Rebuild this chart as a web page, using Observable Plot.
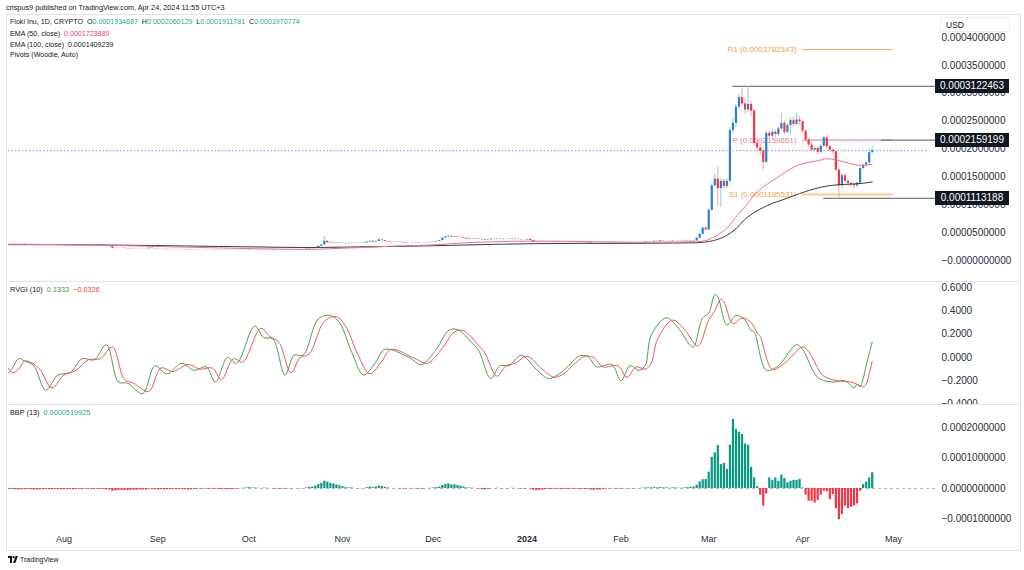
<!DOCTYPE html>
<html><head><meta charset="utf-8">
<script src="https://cdn.jsdelivr.net/npm/d3@7"></script>
<script src="https://cdn.jsdelivr.net/npm/@observablehq/plot@0.6"></script>
<style>
html,body{margin:0;padding:0;background:#fff;}
#root{position:relative;width:1024px;height:570px;overflow:hidden;font-family:"Liberation Sans",Arial,sans-serif;color:#131722;}
.t{position:absolute;white-space:nowrap;line-height:1;}
.panel{position:absolute;left:0;}
.sep{position:absolute;left:6px;width:1014px;height:1px;background:#e0e3eb;}
.tag{position:absolute;left:935px;width:74px;height:14px;background:#131722;color:#fff;font-size:10px;line-height:14px;text-align:center;}
</style></head><body><div id="root"></div>
<script>
// ---------- DATA (prices in units of 1e-6 USD) ----------
const UNIT = 1e-6;
const START = "2023-07-13"; // first daily candle
const open = [
 28.0,29.5,29.8,29.6,29.3,28.9,29.2,28.8,28.9,28.6,28.2,27.9,28.1,28.0,28.3,27.8,27.6,27.9,27.5,
 27.2,26.8,26.5,26.6,26.2,26.4,26.1,25.8,26.5,26.2,26.0,26.1,25.9,25.7,25.9,25.3,24.6,21.8,21.5,21.8,22.0,21.5,21.0,21.6,21.2,21.0,21.1,20.9,20.8,22.2,21.5,
 20.9,20.5,20.6,20.4,20.1,19.9,20.0,19.7,19.9,19.8,19.2,18.6,18.9,19.2,19.5,19.3,19.4,19.1,18.9,19.2,19.0,18.4,18.2,18.3,18.0,17.9,18.1,18.3,18.6,18.8,
 19.1,20.2,19.6,19.8,19.5,19.3,19.8,19.9,19.6,19.0,18.9,18.8,18.6,18.8,19.1,19.2,19.5,19.3,19.1,19.4,20.4,21.0,21.4,23.0,25.5,27.8,34.5,31.8,31.2,32.0,31.5,
 30.8,30.6,30.0,30.9,31.3,30.8,30.4,30.7,31.5,33.2,34.5,32.8,34.2,36.8,35.6,34.0,33.0,32.3,32.7,33.1,32.5,31.4,32.2,32.4,31.9,32.3,31.7,31.5,31.9,32.3,
 32.9,33.4,34.3,35.8,40.2,42.3,43.4,41.8,42.9,42.0,41.3,39.8,38.3,39.3,38.6,37.8,38.3,37.3,36.3,37.0,38.3,37.8,38.6,38.0,37.4,37.6,38.3,38.8,37.8,37.3,36.8,
 37.0,37.8,35.8,32.8,33.6,32.8,33.0,32.4,33.3,32.8,33.8,33.4,32.3,32.6,32.4,32.2,32.8,32.3,31.8,31.6,31.8,31.4,30.0,29.6,30.0,29.8,30.6,30.8,31.0,31.3,31.2,
 30.4,30.6,31.0,30.8,30.6,30.4,30.8,31.4,32.0,33.3,33.8,33.4,34.6,33.8,35.3,34.8,35.0,34.8,35.6,35.8,35.4,36.0,35.2,34.8,35.6,
 35.0,40,47,58,
 55,90,134,146,129,142,133,142,233,246,275,292,281,270,280,268,210,202,196,176,228,223,230,226,236,246,230,242,251,244,252,
 249,232,216,207,198,201,194,205,220,204,198,195,162,134,152,142,138,136,134,139,165,171,175,193.5];
const high = [
 31.2,30.6,30.2,29.9,29.6,29.6,29.4,29.2,29.1,28.8,28.4,28.5,28.4,28.7,28.5,28.0,28.2,28.1,27.7,
 27.4,27.0,26.9,26.8,26.6,26.6,26.3,26.8,26.7,26.4,26.3,26.3,26.1,26.0,26.0,25.5,24.8,22.3,22.1,22.3,22.1,21.7,21.8,21.8,21.4,21.3,21.3,21.1,22.8,22.4,21.7,
 21.1,20.8,20.8,20.6,20.3,20.2,20.2,20.1,20.1,19.9,19.3,19.1,19.4,19.7,19.7,19.6,19.6,19.3,19.4,19.4,19.1,18.6,18.5,18.4,18.2,18.3,18.5,18.8,19.0,19.4,
 20.8,20.4,20.0,20.0,19.7,20.0,20.2,20.1,19.7,19.3,19.1,18.9,19.0,19.3,19.4,19.8,19.7,19.4,19.6,20.8,21.4,21.8,23.6,26.2,29.0,43.0,35.5,32.6,32.8,32.4,31.8,
 31.2,31.0,31.2,31.8,31.5,31.0,31.0,31.8,33.8,35.2,34.8,34.6,39.0,37.2,35.8,34.3,33.3,33.0,33.5,33.4,32.7,32.5,32.8,32.6,32.5,32.4,31.9,32.1,32.6,33.2,
 33.8,34.8,36.3,41.0,43.2,45.5,43.8,43.6,43.3,42.4,41.6,40.0,39.8,39.6,38.9,38.7,38.5,37.5,37.4,38.8,38.6,39.0,38.8,38.2,37.9,38.6,39.3,38.9,38.0,37.6,37.3,
 38.3,38.6,36.2,34.0,33.9,33.4,33.3,33.6,33.6,34.3,34.5,33.6,32.9,32.9,32.7,33.1,33.0,32.5,32.0,32.1,32.0,31.5,30.3,30.3,30.3,30.9,31.1,31.3,31.6,31.6,31.4,
 30.9,31.3,31.2,31.0,30.8,31.1,31.7,32.4,33.7,34.3,34.0,35.0,34.8,35.7,35.6,35.4,35.3,35.9,36.3,36.0,36.4,36.2,35.4,35.9,35.9,
 41,49,61,60,
 93,138,156,168,147,146,148,238,255,280,298,309,290,312.25,285,272,218,208,200,233,232,236,234,240,263,250,246,255,256,263,258,
 252,235,220,211,205,204,208,223,222,206,200,197,165,156,155,146,141,139,141,168,173,177,200,206.0];
const low = [
 27.3,29.0,29.1,29.0,28.6,28.7,28.5,28.5,28.3,27.9,27.6,27.7,27.8,27.8,27.5,27.3,27.4,27.2,26.9,
 26.5,26.3,26.3,26.0,26.0,25.9,25.6,25.6,26.0,25.8,25.8,25.7,25.5,25.5,25.1,24.3,20.6,21.0,21.2,21.5,21.3,20.8,20.9,21.0,20.8,20.8,20.7,20.6,20.7,21.3,20.6,
 20.2,20.3,20.2,19.9,19.7,19.7,19.5,19.6,19.6,19.0,18.3,18.5,18.7,19.0,19.1,19.1,18.9,18.7,18.7,18.8,18.2,18.0,18.0,17.8,17.7,17.8,18.0,18.2,18.4,18.6,
 19.0,19.4,19.4,19.3,19.1,19.1,19.6,19.4,18.8,18.7,18.6,18.4,18.5,18.7,18.9,19.0,19.1,18.9,18.9,19.2,20.1,20.7,21.2,22.8,25.1,27.5,31.0,30.6,31.0,31.1,30.4,
 30.1,29.8,29.8,30.7,30.6,30.2,30.2,30.5,31.3,33.0,32.5,32.6,34.0,35.2,33.8,32.8,32.0,32.1,32.5,32.2,31.0,31.3,32.0,31.6,31.8,31.5,31.3,31.4,31.8,32.1,
 32.6,33.1,34.0,35.6,39.6,41.8,41.2,41.5,41.6,40.8,39.2,37.8,38.1,38.3,37.5,37.5,37.0,36.0,36.1,36.8,37.5,37.6,37.8,37.1,37.2,37.4,38.1,37.6,37.0,36.6,36.5,
 36.7,35.3,31.0,32.5,32.4,32.6,32.1,32.1,32.5,32.6,33.1,32.0,32.1,32.1,31.9,32.0,32.0,31.6,31.3,31.4,31.1,29.7,29.0,29.3,29.5,29.6,30.4,30.6,30.8,31.0,30.1,
 30.1,30.4,30.6,30.4,30.2,30.2,30.6,31.2,31.8,33.1,33.2,33.2,33.6,33.6,34.6,34.6,34.6,34.6,35.3,35.2,35.2,35.0,34.5,34.6,34.8,
 34.6,39,46,53.7,
 54,88,130,96,95,128,128,138,228,238,270,276,262,266,258,205,196,190,162,172,218,218,220,222,233,226,228,225,240,242,243,
 228,212,203,194,194,190,192,203,200,193,191,158,111.3,128,139,134,132,129,130,136,163,167,172,191.2];
const close = [
 29.5,29.8,29.6,29.3,28.9,29.2,28.8,28.9,28.6,28.2,27.9,28.1,28.0,28.3,27.8,27.6,27.9,27.5,27.2,
 26.8,26.5,26.6,26.2,26.4,26.1,25.8,26.5,26.2,26.0,26.1,25.9,25.7,25.9,25.3,24.6,21.8,21.5,21.8,22.0,21.5,21.0,21.6,21.2,21.0,21.1,20.9,20.8,22.2,21.5,20.9,
 20.5,20.6,20.4,20.1,19.9,20.0,19.7,19.9,19.8,19.2,18.6,18.9,19.2,19.5,19.3,19.4,19.1,18.9,19.2,19.0,18.4,18.2,18.3,18.0,17.9,18.1,18.3,18.6,18.8,19.1,
 20.2,19.6,19.8,19.5,19.3,19.8,19.9,19.6,19.0,18.9,18.8,18.6,18.8,19.1,19.2,19.5,19.3,19.1,19.4,20.4,21.0,21.4,23.0,25.5,27.8,34.5,31.8,31.2,32.0,31.5,30.8,
 30.6,30.0,30.9,31.3,30.8,30.4,30.7,31.5,33.2,34.5,32.8,34.2,36.8,35.6,34.0,33.0,32.3,32.7,33.1,32.5,31.4,32.2,32.4,31.9,32.3,31.7,31.5,31.9,32.3,32.9,
 33.4,34.3,35.8,40.2,42.3,43.4,41.8,42.9,42.0,41.3,39.8,38.3,39.3,38.6,37.8,38.3,37.3,36.3,37.0,38.3,37.8,38.6,38.0,37.4,37.6,38.3,38.8,37.8,37.3,36.8,37.0,
 37.8,35.8,32.8,33.6,32.8,33.0,32.4,33.3,32.8,33.8,33.4,32.3,32.6,32.4,32.2,32.8,32.3,31.8,31.6,31.8,31.4,30.0,29.6,30.0,29.8,30.6,30.8,31.0,31.3,31.2,30.4,
 30.6,31.0,30.8,30.6,30.4,30.8,31.4,32.0,33.3,33.8,33.4,34.6,33.8,35.3,34.8,35.0,34.8,35.6,35.8,35.4,36.0,35.2,34.8,35.6,35.0,
 40,47,58,55,
 90,134,146,129,142,133,142,233,246,275,292,281,270,280,268,210,202,196,176,228,223,230,226,236,246,230,242,251,244,252,249,
 232,216,207,198,201,194,205,220,204,198,195,162,134,152,142,138,136,134,139,165,171,175,193.5,197.1];
const bbp = [
 -2,-3,-4,-4,-5,-4,-4,-3,-4,-5,-5,-4,-4,-3,-4,-4,-3,-4,-4,
 -4,-4,-3,-4,-3,-3,-4,-2,-2,-3,-3,-3,-3,-3,-4,-5,-9,-8,-7,-6,-6,-7,-6,-6,-6,-5,-5,-5,-2,-3,-4,
 -5,-4,-4,-4,-4,-3,-4,-3,-3,-4,-5,-4,-3,-2,-2,-2,-2,-3,-2,-2,-3,-4,-3,-4,-4,-3,-2,-1,1,2,
 3,2,2,1,0,1,1,0,-1,-2,-2,-2,-2,-1,-1,0,0,-1,0,2,4,5,8,13,17,24,21,17,15,12,9,
 6,3,2,2,0,-1,-1,0,3,5,3,5,8,7,4,2,0,0,0,-1,-2,-1,-1,-1,-1,-2,-2,-1,0,1,
 2,3,5,10,13,15,12,12,10,8,5,2,2,1,0,-2,-4,-5,-3,-1,0,1,0,-1,-1,0,1,0,-1,-2,-2,
 0,-2,-6,-7,-6,-5,-4,-3,-3,-2,-2,-3,-3,-3,-3,-2,-2,-3,-3,-3,-3,-5,-6,-5,-5,-3,-2,-1,-1,-1,-2,
 -2,-1,-1,-1,-1,-1,0,1,2,2,2,3,2,3,2,2,1,2,2,1,1,2,3,4,5,
 11,22,29,30,
 54,103,118,142,79,83,63,143,228,195,186,178,147,143,70,35,6,-22,-58,-18,35,26,35,24,44,33,19,24,27,27,30,
 2,-22,-42,-42,-48,-40,-22,-9,-11,-37,-20,-67,-103,-86,-58,-66,-62,-58,-51,-9,13,21,35,52];

const ema50Dates = ["2023-07-13","2023-07-20","2023-07-27","2023-08-03","2023-08-10","2023-08-17","2023-08-24","2023-08-31","2023-09-07","2023-09-14","2023-09-21","2023-09-28","2023-10-05","2023-10-12","2023-10-19","2023-10-26","2023-11-02","2023-11-09","2023-11-16","2023-11-23","2023-11-30","2023-12-07","2023-12-14","2023-12-21","2023-12-28","2024-01-04","2024-01-11","2024-01-18","2024-01-25","2024-02-01","2024-02-08","2024-02-15","2024-02-22","2024-02-26","2024-02-29","2024-03-02","2024-03-04","2024-03-07","2024-03-10","2024-03-13","2024-03-16","2024-03-19","2024-03-22","2024-03-25","2024-03-28","2024-03-31","2024-04-03","2024-04-06","2024-04-09","2024-04-12","2024-04-15","2024-04-18","2024-04-20","2024-04-22","2024-04-24"];
const ema50Values = [28.9,28.9,28.7,28.3,27.8,27.2,26.2,25.3,24.4,23.5,22.6,21.6,20.9,20.3,19.9,20.6,22.2,23.6,25.4,26.6,27.7,30.2,32.3,33.6,34.6,34.8,34.6,34.2,33.5,33.0,32.7,33.0,33.4,33.8,35.6,40,46,58,78,97,117,132,143,154,164,172,176,179,182.5,180.5,176.5,172.3,170.6,171.3,172.4];
const ema100Dates = ["2023-07-13","2023-07-27","2023-08-10","2023-08-24","2023-09-07","2023-09-21","2023-10-05","2023-10-19","2023-10-26","2023-11-09","2023-11-23","2023-12-07","2023-12-21","2024-01-04","2024-01-18","2024-02-01","2024-02-15","2024-02-26","2024-03-01","2024-03-04","2024-03-07","2024-03-10","2024-03-13","2024-03-16","2024-03-19","2024-03-22","2024-03-25","2024-03-28","2024-03-31","2024-04-03","2024-04-06","2024-04-09","2024-04-12","2024-04-15","2024-04-18","2024-04-21","2024-04-24"];
const ema100Values = [28.4,28.4,28.1,27.3,26.3,25.2,24.2,23.3,23.5,24.6,25.6,27.2,29.0,30.2,30.7,30.8,31.2,31.8,34,38,45,57,74,86,95,102.5,108,114,120,125.5,130,133.5,135.5,136.5,137.3,138.6,140.9];

const rvgiDates = ["2023-07-13","2023-07-15","2023-07-17","2023-07-19","2023-07-22","2023-07-26","2023-07-30","2023-08-03","2023-08-07","2023-08-11","2023-08-15","2023-08-19","2023-08-22","2023-08-27","2023-08-31","2023-09-04","2023-09-09","2023-09-13","2023-09-17","2023-09-20","2023-09-24","2023-09-27","2023-10-03","2023-10-06","2023-10-09","2023-10-13","2023-10-16","2023-10-19","2023-10-24","2023-10-28","2023-10-31","2023-11-04","2023-11-08","2023-11-12","2023-11-15","2023-11-23","2023-11-27","2023-12-02","2023-12-06","2023-12-09","2023-12-14","2023-12-16","2023-12-20","2023-12-23","2023-12-26","2023-12-30","2024-01-04","2024-01-08","2024-01-11","2024-01-14","2024-01-18","2024-01-21","2024-01-24","2024-01-29","2024-02-01","2024-02-04","2024-02-07","2024-02-09","2024-02-11","2024-02-16","2024-02-20","2024-02-24","2024-02-25","2024-02-28","2024-03-01","2024-03-03","2024-03-04","2024-03-07","2024-03-10","2024-03-13","2024-03-15","2024-03-16","2024-03-20","2024-03-24","2024-03-30","2024-04-01","2024-04-06","2024-04-11","2024-04-15","2024-04-18","2024-04-19","2024-04-20","2024-04-21","2024-04-22","2024-04-23","2024-04-24"];
const rvgiValues = [-0.15,-0.09,-0.01,-0.03,-0.07,-0.28,-0.15,-0.13,-0.01,-0.02,0.11,-0.21,-0.22,-0.31,-0.07,-0.14,-0.05,-0.11,-0.08,-0.21,0.00,-0.05,0.27,0.17,0.16,-0.15,0.02,0.02,0.33,0.36,0.30,0.05,-0.15,-0.04,0.07,0.00,-0.06,0.07,0.23,0.24,0.12,0.06,-0.18,-0.07,-0.07,0.02,-0.10,-0.18,-0.15,-0.09,0.01,0.01,-0.08,-0.06,-0.20,-0.07,-0.11,-0.07,0.19,0.34,0.25,0.10,0.09,0.34,0.38,0.54,0.52,0.28,0.36,0.32,0.23,0.22,-0.11,-0.07,0.11,0.07,-0.17,-0.21,-0.20,-0.26,-0.23,-0.25,-0.18,-0.07,0.03,0.1333];
const signalDates = ["2023-07-13","2023-07-15","2023-07-17","2023-07-19","2023-07-21","2023-07-24","2023-07-28","2023-08-01","2023-08-05","2023-08-09","2023-08-13","2023-08-17","2023-08-21","2023-08-24","2023-08-29","2023-09-02","2023-09-06","2023-09-11","2023-09-15","2023-09-19","2023-09-22","2023-09-26","2023-09-29","2023-10-05","2023-10-08","2023-10-11","2023-10-15","2023-10-18","2023-10-21","2023-10-26","2023-10-30","2023-11-02","2023-11-06","2023-11-10","2023-11-14","2023-11-17","2023-11-25","2023-11-29","2023-12-04","2023-12-08","2023-12-11","2023-12-16","2023-12-18","2023-12-22","2023-12-25","2023-12-28","2024-01-01","2024-01-06","2024-01-10","2024-01-13","2024-01-16","2024-01-20","2024-01-23","2024-01-26","2024-01-31","2024-02-03","2024-02-06","2024-02-09","2024-02-11","2024-02-13","2024-02-18","2024-02-22","2024-02-26","2024-02-27","2024-03-01","2024-03-03","2024-03-05","2024-03-06","2024-03-09","2024-03-12","2024-03-15","2024-03-17","2024-03-18","2024-03-22","2024-03-26","2024-04-01","2024-04-03","2024-04-08","2024-04-13","2024-04-17","2024-04-20","2024-04-21","2024-04-22","2024-04-23","2024-04-24"];
const signalValues = [-0.07,-0.13,-0.10,-0.03,-0.04,-0.10,-0.26,-0.15,-0.11,-0.02,-0.01,0.09,-0.19,-0.22,-0.29,-0.09,-0.12,-0.06,-0.10,-0.09,-0.19,-0.01,-0.04,0.25,0.18,0.13,-0.13,0.00,0.03,0.31,0.35,0.27,0.03,-0.14,-0.03,0.07,-0.01,-0.05,0.08,0.22,0.23,0.10,0.04,-0.16,-0.07,-0.05,0.01,-0.10,-0.17,-0.14,-0.07,0.01,0.00,-0.08,-0.07,-0.17,-0.08,-0.10,-0.05,0.15,0.32,0.24,0.10,0.11,0.32,0.40,0.50,0.48,0.29,0.34,0.30,0.21,0.18,-0.10,-0.05,0.09,0.05,-0.16,-0.20,-0.21,-0.24,-0.25,-0.23,-0.14,-0.0326];

const lastPrice = 0.0001970774;
const levelValues = [0.0003122463, 0.0002159199, 0.0001113188];
const levelFrom = ["2024-03-09", "2024-04-27", "2024-04-08"];
const pivotNames = ["R1", "P", "S1"];
const pivotValues = [0.0003782343, 0.0002159661, 0.0001185531];
const pivotFrom = "2024-04-01", pivotTo = "2024-05-01", rayTo = "2024-05-15";

const priceTicks = [0, 0.00005, 0.0001, 0.00015, 0.0002, 0.00025, 0.0003, 0.00035, 0.0004];
const rvgiTicks = [-0.4, -0.2, 0, 0.2, 0.4, 0.6];
const bbpTicks = [-0.0001, 0, 0.0001, 0.0002];
const monthTicks = ["2023-08-01","2023-09-01","2023-10-01","2023-11-01","2023-12-01","2024-01-01","2024-02-01","2024-03-01","2024-04-01","2024-05-01"];
const monthLabels = ["Aug","Sep","Oct","Nov","Dec","2024","Feb","Mar","Apr","May"];

// ---------- BUILD ----------
const D = s => new Date(s + "T00:00:00Z");
const t0 = D(START).getTime();
const candles = close.map((c, i) => ({date: new Date(t0 + i * 864e5), o: open[i]*UNIT, h: high[i]*UNIT, l: low[i]*UNIT, c: c*UNIT, b: bbp[i]*UNIT}));
const upC = candles.filter(d => d.c >= d.o), dnC = candles.filter(d => d.c < d.o);
const ema50 = ema50Dates.map((d, i) => ({date: D(d), v: ema50Values[i]*UNIT}));
const ema100 = ema100Dates.map((d, i) => ({date: D(d), v: ema100Values[i]*UNIT}));
const rvgi = rvgiDates.map((d, i) => ({date: D(d), v: rvgiValues[i]}));
const signal = signalDates.map((d, i) => ({date: D(d), v: signalValues[i]}));
const levels = levelValues.map((v, i) => ({v, from: D(levelFrom[i]), to: D(rayTo)}));
const pivots = pivotValues.map((v, i) => ({v, name: pivotNames[i], from: D(pivotFrom), to: D(pivotTo), label: `${pivotNames[i]} (${v.toFixed(10)})`}));

const X = {type: "utc", domain: [new Date("2023-07-13T16:00:00Z"), new Date("2024-05-12T14:24:00Z")], range: [8, 928], label: null};
const FONT = '"Liberation Sans", Arial, sans-serif';
const neg = s => s.replace("-", "\u2212");
const common = {width: 1024, marginLeft: 8, marginRight: 96, marginTop: 0,
  style: {background: "transparent", fontFamily: FONT, fontSize: "10px", color: "#2a2e39", overflow: "hidden"}};

const root = document.getElementById("root");
function place(el, top) { el.classList.add("panel"); el.style.top = top + "px"; root.appendChild(el); return el; }
function div(cls, css, html) { const e = document.createElement("div"); e.className = cls; e.style.cssText = css; e.innerHTML = html; root.appendChild(e); return e; }

// Price panel
const pricePlot = Plot.plot({...common, height: 266, marginBottom: 0,
  x: {...X, axis: null},
  y: {domain: [0, 0.0004], range: [245, 22], label: null},
  marks: [
    Plot.axisY({anchor: "right", label: null, ticks: priceTicks, tickSize: 0, tickPadding: 13, fontSize: 10,
      tickFormat: d => d === 0 ? "\u22120.0000000000" : d.toFixed(10)}),
    Plot.ruleY([lastPrice], {stroke: "#7d96e3", strokeDasharray: "1.5,2", strokeWidth: 1}),
    Plot.text(pivots, {x: "from", y: "v", text: "label", textAnchor: "end", dx: -6, fontSize: 8,
      fill: d => d.name === "P" ? "#ef7a93" : "#f5a04a"}),
    Plot.ruleY(pivots.filter(d => d.name === "R1"), {y: "v", x1: "from", x2: "to", stroke: "#f5a65b", strokeWidth: 1}),
    Plot.ruleY(pivots.filter(d => d.name === "S1"), {y: "v", x1: "from", x2: "to", stroke: "#fbc98c", strokeWidth: 2}),
    Plot.ruleY(pivots.filter(d => d.name === "P"), {y: "v", x1: "from", x2: "to", stroke: "#ef8da0", strokeWidth: 1.2}),
    Plot.ruleY(levels, {y: "v", x1: "from", x2: "to", stroke: "#787b86", strokeWidth: 1.2}),
    Plot.ruleX(upC, {x: "date", y1: "l", y2: "h", stroke: "#8fd4c1", strokeWidth: 1, clip: true}),
    Plot.ruleX(dnC, {x: "date", y1: "l", y2: "h", stroke: "#f5a3ad", strokeWidth: 1, clip: true}),
    Plot.ruleX(upC, {x: "date", y1: "o", y2: "c", stroke: "#2a7ed6", strokeWidth: 2.2, clip: true}),
    Plot.ruleX(dnC, {x: "date", y1: "o", y2: "c", stroke: "#f23645", strokeWidth: 2.2, clip: true}),
    Plot.line(ema100, {x: "date", y: "v", stroke: "#3a3a3a", strokeWidth: 1, curve: "monotone-x", clip: true}),
    Plot.line(ema50, {x: "date", y: "v", stroke: "#f0708f", strokeWidth: 1, curve: "monotone-x", clip: true})
  ]});
place(pricePlot, 15);

// RVGI panel
const rvgiPlot = Plot.plot({...common, height: 122, marginBottom: 0,
  x: {...X, axis: null},
  y: {domain: [-0.4, 0.6], range: [121.7, 5], label: null},
  marks: [
    Plot.axisY({anchor: "right", label: null, ticks: rvgiTicks, tickSize: 0, tickPadding: 13, fontSize: 10,
      tickFormat: d => neg(d.toFixed(4))}),
    Plot.line(rvgi, {x: "date", y: "v", stroke: "#4c9f50", strokeWidth: 1, curve: "catmull-rom", clip: true}),
    Plot.line(signal, {x: "date", y: "v", stroke: "#f5525c", strokeWidth: 1, curve: "catmull-rom", clip: true})
  ]});
place(rvgiPlot, 282);

// BBP panel + time axis
const bbpPlot = Plot.plot({...common, height: 146, marginBottom: 20,
  style: {...common.style, background: "#fff"},
  x: {...X},
  y: {domain: [-0.0001, 0.0002], range: [114.3, 23.4], label: null},
  marks: [
    Plot.axisY({anchor: "right", label: null, ticks: bbpTicks, tickSize: 0, tickPadding: 13, fontSize: 10,
      tickFormat: d => neg(d.toFixed(10))}),
    Plot.axisX({anchor: "bottom", label: null, ticks: monthTicks.map(D), tickSize: 0, tickPadding: 5, fontSize: 9,
      tickFormat: d => monthLabels[monthTicks.indexOf(d.toISOString().slice(0, 10))]}),
    Plot.ruleY([0], {x1: X.domain[0], x2: D(rayTo), stroke: "#b2b5be", strokeDasharray: "3,3", strokeWidth: 1}),
    Plot.ruleX(candles.filter(d => d.b >= 0), {x: "date", y1: 0, y2: "b", stroke: "#089981", strokeWidth: 2.2, clip: true}),
    Plot.ruleX(candles.filter(d => d.b < 0), {x: "date", y1: 0, y2: "b", stroke: "#f23645", strokeWidth: 2.2, clip: true})
  ]});
place(bbpPlot, 404);
d3.select(bbpPlot).selectAll("text").filter(function() { return this.textContent === "2024"; }).attr("font-weight", "bold");

// Frame, separators
div("", "position:absolute;left:6px;top:14px;width:1013px;height:535px;border:1px solid #e0e3eb;pointer-events:none;", "");
div("sep", "top:281px;", "");
div("sep", "top:404px;", "");

// Price tags on the axis (they cover the round tick labels beneath, as in the reference)
const ys = pricePlot.scale("y");
levelValues.forEach(v => div("tag", `top:${15 + ys.apply(v) - 7}px;`, v.toFixed(10)));

// USD box
div("t", "left:940px;top:17px;width:70px;height:15px;border:1px solid #eceef2;border-radius:2px;background:#fff;font-size:8.5px;line-height:15px;padding-left:5px;box-sizing:border-box;", "USD");

// Texts
const G = "#22ab94";
div("t", "left:6px;top:4px;font-size:7.3px;color:#131722;", "crispus9 published on TradingView.com, Apr 24, 2024 11:55 UTC+3");
div("t", "left:10px;top:19px;font-size:7.1px;",
  `Floki Inu, 1D, CRYPTO&nbsp; O<span style="color:${G}">0.0001934687</span>&nbsp; H<span style="color:${G}">0.0002060129</span>&nbsp; L<span style="color:${G}">0.0001911781</span>&nbsp; C<span style="color:${G}">${lastPrice.toFixed(10)}</span>`);
div("t", "left:10px;top:31px;font-size:7.1px;", `EMA (50, close)&nbsp; <span style="color:#f23a6f">0.0001723889</span>`);
div("t", "left:10px;top:42px;font-size:7.1px;", `EMA (100, close)&nbsp; 0.0001409239`);
div("t", "left:10px;top:52px;font-size:7.1px;", `Pivots (Woodie, Auto)`);
div("t", "left:10px;top:286px;font-size:7.3px;", `RVGI (10)&nbsp; <span style="color:#43a047">${rvgiValues[rvgiValues.length-1].toFixed(4)}</span>&nbsp; <span style="color:#f44336">${neg(signalValues[signalValues.length-1].toFixed(4))}</span>`);
div("t", "left:10px;top:409px;font-size:7.3px;", `BBP (13)&nbsp; <span style="color:${G}">0.0000519925</span>`);

// TradingView logo
div("t", "left:8px;top:556px;font-size:7px;color:#131722;",
  `<svg width="10" height="7" viewBox="0 0 10 7" style="vertical-align:-1px;margin-right:2px"><path d="M0 0h4v7H2V2H0z" fill="#131722"/><circle cx="5.6" cy="1.2" r="1.1" fill="#131722"/><path d="M7.6 0H10L7.4 7H5z" fill="#131722"/></svg>TradingView`);
</script></body></html>
